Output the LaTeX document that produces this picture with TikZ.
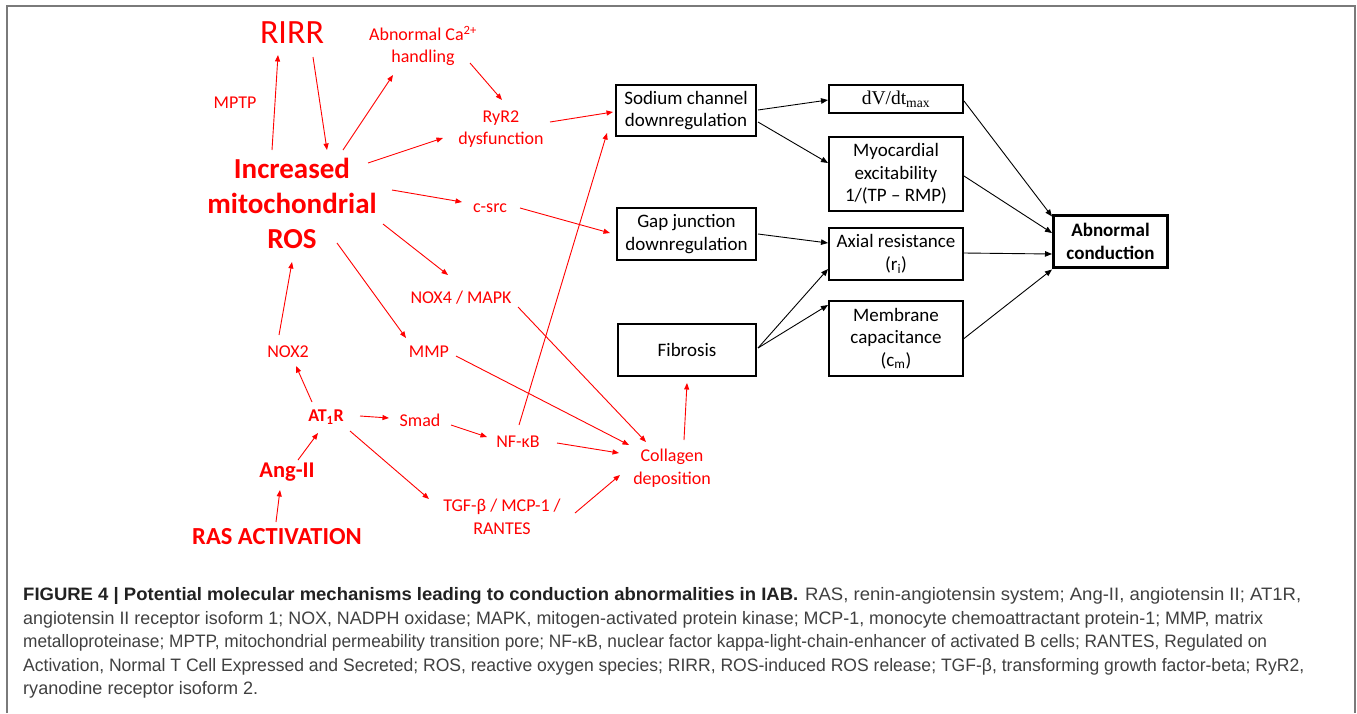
\documentclass[tikz,border=0pt]{standalone}
\usepackage{fontspec}
\usepackage{graphicx}
\setmainfont{Carlito}
\newfontfamily\capfont{Liberation Sans}
\newfontfamily\dvfont{Liberation Serif}
\usetikzlibrary{arrows.meta,calc}
\definecolor{framegray}{HTML}{7A7A7A}
\definecolor{capgray}{HTML}{404040}
\definecolor{rred}{HTML}{FF0000}
\newcommand\capfit[2]{\resizebox{#1}{\height}{#2}}
\tikzset{
 rtxt/.style={text=rred, align=center, inner sep=0pt, font=\fontsize{18}{22.5}\selectfont},
 bbox/.style={draw=black, line width=1.6pt, align=center, inner sep=0pt, font=\fontsize{19}{22.5}\selectfont},
 rarr/.style={draw=rred, line width=0.9pt, -{Triangle[length=6.5pt,width=5pt]}},
 barr/.style={draw=black, line width=0.9pt, -{Triangle[length=7pt,width=5.5pt]}},
 capline/.style={anchor=base west, inner sep=0pt, text=capgray, font=\capfont\fontsize{18}{24}\selectfont},
}
\begin{document}
\begin{tikzpicture}[x=1pt,y=-1pt]
\useasboundingbox (0,0) rectangle (1357,713);
\draw[framegray, line width=2pt] (7,713) -- (7,6) -- (1355,6) -- (1355,713);

% red text nodes
\node[rtxt, font=\fontsize{34}{40}\selectfont] (rirr) at (292,33) {RIRR};
\node[rtxt] (ca) at (423,46) {Abnormal Ca\textsuperscript{2+}\\handling};
\node[rtxt] (mptp) at (235,103) {MPTP};
\node[rtxt] (ryr) at (501,129) {RyR2\\dysfunction};
\node[rtxt, font=\bfseries\fontsize{29}{35}\selectfont] (ros) at (292,203) {Increased\\mitochondrial\\ROS};
\node[rtxt] (csrc) at (490,208) {c-src};
\node[rtxt] (nox4) at (461,298) {NOX4 / MAPK};
\node[rtxt] (mmp) at (429,352) {MMP};
\node[rtxt] (nox2) at (288,352) {NOX2};
\node[rtxt, font=\bfseries\fontsize{18}{22}\selectfont] (at1r) at (326,417) {AT\textsubscript{1}R};
\node[rtxt] (smad) at (420,420) {Smad};
\node[rtxt] (nfkb) at (518,442) {NF-κB};
\node[rtxt, font=\bfseries\fontsize{22.5}{27}\selectfont] (ang) at (287,472) {Ang-II};
\node[rtxt] (tgf) at (502,517) {TGF-β / MCP-1 /\\RANTES};
\node[rtxt] (coll) at (672,468) {Collagen\\deposition};
\node[rtxt, font=\bfseries\fontsize{24.5}{29}\selectfont] (ras) at (277,537) {RAS ACTIVATION};

% black boxes
\node[bbox, minimum width=140pt, minimum height=51pt] (sod) at (686,110.5) {Sodium channel\\downregulation};
\node[bbox, minimum width=134pt, minimum height=28pt] (dv) at (896,99) {\dvfont\fontsize{19.5}{22}\selectfont dV/dt\textsubscript{max}};
\node[bbox, minimum width=134pt, minimum height=74pt] (myo) at (896,174) {Myocardial\\excitability\\1/(TP – RMP)};
\node[bbox, minimum width=139pt, minimum height=52pt] (gap) at (686.5,234) {Gap junction\\downregulation};
\node[bbox, minimum width=134pt, minimum height=52pt] (axial) at (896,254) {Axial resistance\\(r\textsubscript{i})};
\node[bbox, minimum width=138pt, minimum height=52pt] (fib) at (687,350) {Fibrosis};
\node[bbox, minimum width=134pt, minimum height=75pt] (mem) at (896,338.5) {Membrane\\capacitance\\(c\textsubscript{m})};
\node[bbox, line width=2.6pt, minimum width=114pt, minimum height=52pt, font=\bfseries\fontsize{19}{22.5}\selectfont] (abn) at (1110.5,241.5) {Abnormal\\conduction};

% red arrows
\draw[rarr] ($(ros)+(-20,-53)$) -- ($(rirr)+(-14,22)$);
\draw[rarr] ($(rirr)+(21,24)$) -- ($(ros)+(35,-53)$);
\draw[rarr] ($(ros)+(51,-53)$) -- ($(ca)+(-30,29)$);
\draw[rarr] ($(ca)+(47,17)$) -- ($(ryr)+(1,-29)$);
\draw[rarr] ($(ros)+(76,-40)$) -- ($(ryr)+(-58,9)$);
\draw[rarr] ($(ryr)+(49,-7)$) -- ($(sod)+(-73,1.5)$);
\draw[rarr] ($(ros)+(100,-13)$) -- ($(csrc)+(-28,-6)$);
\draw[rarr] ($(csrc)+(30,0)$) -- ($(gap)+(-76.5,-1)$);
\draw[rarr] ($(ros)+(91,21)$) -- ($(nox4)+(-13,-23)$);
\draw[rarr] ($(ros)+(45,40)$) -- ($(mmp)+(-23,-14)$);
\draw[rarr] ($(nox2)+(-9,-17)$) -- ($(ros)+(0,59)$);
\draw[rarr] ($(nox4)+(57,9)$) -- ($(coll)+(-26,-26)$);
\draw[rarr] ($(mmp)+(27,4)$) -- ($(coll)+(-43,-23)$);
\draw[rarr] ($(nfkb)+(1,-17)$) -- ($(sod)+(-79,22.5)$);
\draw[rarr] ($(at1r)+(-14,-15)$) -- ($(nox2)+(8,14)$);
\draw[rarr] ($(at1r)+(34,-1)$) -- ($(smad)+(-31,-2)$);
\draw[rarr] ($(smad)+(31,5)$) -- ($(nfkb)+(-31,-5)$);
\draw[rarr] ($(nfkb)+(39,1)$) -- ($(coll)+(-53,-15)$);
\draw[rarr] ($(at1r)+(24,14)$) -- ($(tgf)+(-73,-18)$);
\draw[rarr] ($(tgf)+(73,-4)$) -- ($(coll)+(-52,7)$);
\draw[rarr] ($(coll)+(12,-28)$) -- ($(fib)+(0,33)$);
\draw[rarr] ($(ang)+(11,-12)$) -- ($(at1r)+(-8,16)$);
\draw[rarr] ($(ras)+(-1,-15)$) -- ($(ang)+(-7,18)$);

% black arrows
\draw[barr] ($(sod)+(72,-0.5)$) -- ($(dv)+(-68,1)$);
\draw[barr] ($(sod)+(72,11.5)$) -- ($(myo)+(-68,-11)$);
\draw[barr] ($(gap)+(71.5,0)$) -- ($(axial)+(-68,-11)$);
\draw[barr] ($(fib)+(71,-2)$) -- ($(axial)+(-68,15)$);
\draw[barr] ($(fib)+(71,-2)$) -- ($(mem)+(-68,-33.5)$);
\draw[barr] ($(dv)+(68,2)$) -- ($(abn)+(-58.5,-25)$);
\draw[barr] ($(myo)+(68,2)$) -- ($(abn)+(-58.5,-8.5)$);
\draw[barr] ($(axial)+(68,-1)$) -- ($(abn)+(-58.5,12.5)$);
\draw[barr] ($(mem)+(68,0)$) -- ($(abn)+(-58.5,28)$);

% caption
\node[capline] (c1) at (23,600.5) {\capfit{775pt}{\bfseries\color{black!87}FIGURE 4 | Potential molecular mechanisms leading to conduction abnormalities in IAB.}\hspace{7pt}\capfit{496pt}{RAS, renin-angiotensin system; Ang-II, angiotensin II; AT1R,}};
\node[capline] (c2) at (23,624) {\capfit{1240pt}{angiotensin II receptor isoform 1; NOX, NADPH oxidase; MAPK, mitogen-activated protein kinase; MCP-1, monocyte chemoattractant protein-1; MMP, matrix}};
\node[capline] (c3) at (23,647.5) {\capfit{1244pt}{metalloproteinase; MPTP, mitochondrial permeability transition pore; NF-κB, nuclear factor kappa-light-chain-enhancer of activated B cells; RANTES, Regulated on}};
\node[capline] (c4) at (23,671) {\capfit{1281pt}{Activation, Normal T Cell Expressed and Secreted; ROS, reactive oxygen species; RIRR, ROS-induced ROS release; TGF-β, transforming growth factor-beta; RyR2,}};
\node[capline] (c5) at (23,694.5) {\capfit{235pt}{ryanodine receptor isoform 2.}};
\end{tikzpicture}
\end{document}
